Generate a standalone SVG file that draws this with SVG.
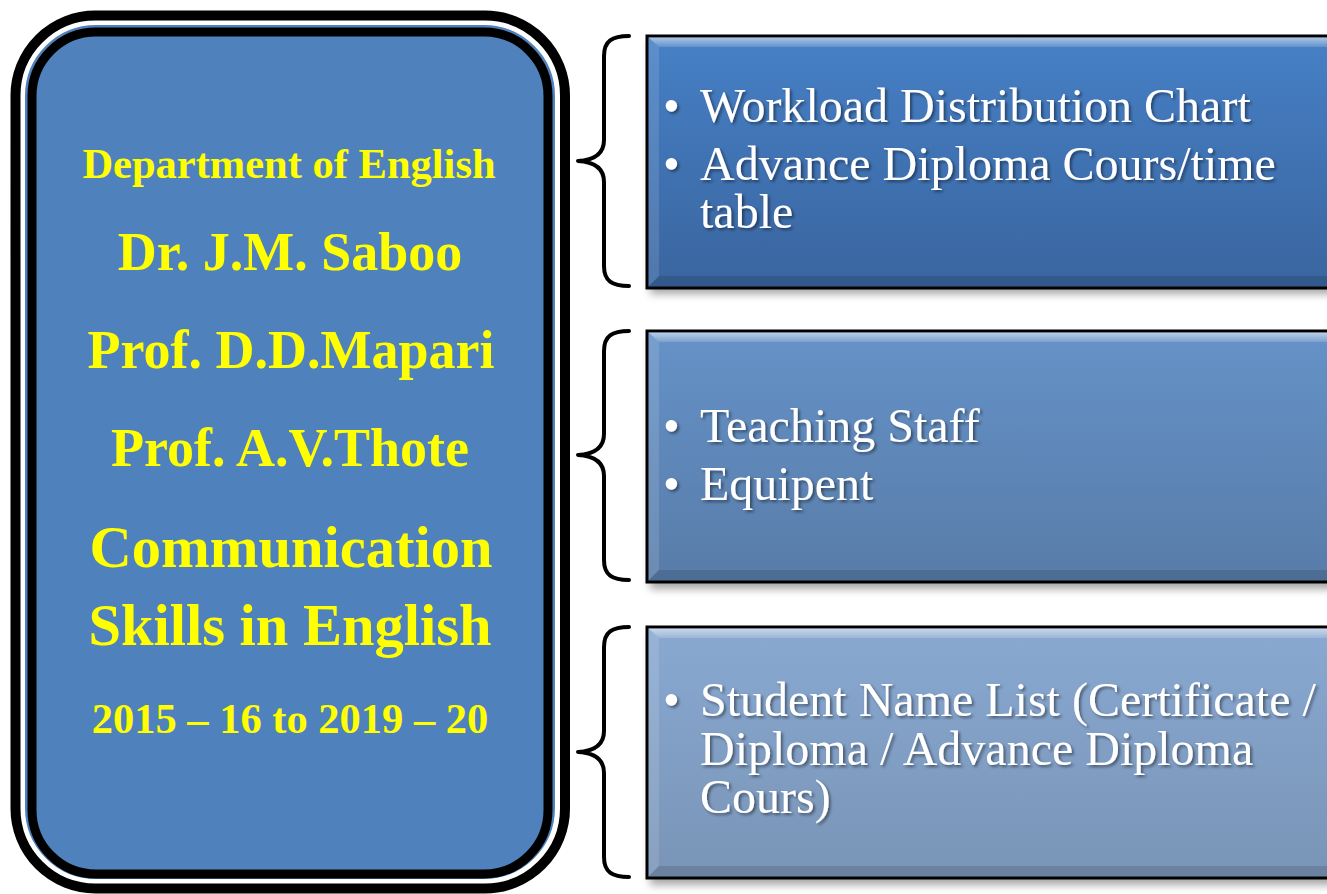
<svg xmlns="http://www.w3.org/2000/svg" width="1327" height="894" viewBox="0 0 1327 894">
<defs>
<linearGradient id="g1" x1="0" y1="0" x2="0" y2="1"><stop offset="0" stop-color="#4680c6"/><stop offset="1" stop-color="#3a659f"/></linearGradient>
<linearGradient id="g2" x1="0" y1="0" x2="0" y2="1"><stop offset="0" stop-color="#6592c8"/><stop offset="1" stop-color="#587ca8"/></linearGradient>
<linearGradient id="g3" x1="0" y1="0" x2="0" y2="1"><stop offset="0" stop-color="#89a9d2"/><stop offset="1" stop-color="#7994b6"/></linearGradient>
<linearGradient id="hg" x1="0" y1="0" x2="0" y2="1"><stop offset="0" stop-color="#fff" stop-opacity="0.55"/><stop offset="1" stop-color="#fff" stop-opacity="0.15"/></linearGradient>
<filter id="ts" x="-5%" y="-20%" width="110%" height="140%"><feDropShadow dx="2" dy="2" stdDeviation="1.5" flood-color="#000" flood-opacity="0.45"/></filter>
<filter id="bs" x="-5%" y="-10%" width="110%" height="130%"><feGaussianBlur stdDeviation="4"/></filter>
<style>
.ttl{font-family:"Liberation Serif","Times New Roman",serif;font-weight:bold;fill:#ffff00;text-anchor:middle}
.itm{font-family:"Liberation Serif","Times New Roman",serif;font-size:48px;fill:#ffffff}
.brace{fill:none;stroke:#000;stroke-width:4;stroke-linecap:round;stroke-linejoin:round}
.frame{stroke:#000;stroke-width:3}
.hi{fill:url(#hg)}
.dk{fill:#000000;opacity:0.12}
</style>
</defs>

<g id="main">
<rect x="15.5" y="15.5" width="549.5" height="873" rx="80" fill="none" stroke="#000" stroke-width="10"/>
<rect x="24" y="24" width="532" height="856" rx="72" fill="#4f81bd" stroke="#fff" stroke-width="2"/>
<rect x="32" y="32" width="516" height="842" rx="64" fill="#4f81bd" stroke="#000" stroke-width="9"/>
<text class="ttl" x="289" y="178" font-size="42.5">Department of English</text>
<text class="ttl" x="290" y="270" font-size="54">Dr. J.M. Saboo</text>
<text class="ttl" x="291" y="368" font-size="54">Prof. D.D.Mapari</text>
<text class="ttl" x="290" y="466" font-size="54">Prof. A.V.Thote</text>
<text class="ttl" x="291" y="567" font-size="58.5">Communication</text>
<text class="ttl" x="290" y="645" font-size="58.5">Skills in English</text>
<text class="ttl" x="290" y="733" font-size="42.5">2015 – 16 to 2019 – 20</text>
</g>

<g id="connectors">
<path class="brace" d="M629 36 C612 36 604 41 604 56 L604 140 C604 153 596 160 578 161 C596 162 604 169 604 182 L604 266 C604 281 612 286 629 286"/>
<path class="brace" d="M629 331 C612 331 604 336 604 351 L604 434 C604 447 596 454 578 455 C596 456 604 463 604 476 L604 560 C604 575 612 580 629 580"/>
<path class="brace" d="M629 627 C612 627 604 632 604 647 L604 731 C604 744 596 751 578 752 C596 753 604 760 604 773 L604 857 C604 872 612 877 629 877"/>
</g>

<g id="box1">
<rect x="650" y="42" width="690" height="252" fill="#000" opacity="0.35" filter="url(#bs)"/>
<rect class="frame" x="647" y="36" width="690" height="252" fill="url(#g1)"/>
<polygon class="hi" points="648.5,37.5 1340,37.5 1340,47 659,47"/>
<polygon points="648.5,37.5 659,47 659,276 648.5,286.5" fill="#fff" opacity="0.12"/>
<polygon class="dk" points="648.5,286.5 659,276 1340,276 1340,286.5"/>
<g filter="url(#ts)">
<text class="itm" x="663" y="122">•</text><text class="itm" x="700" y="122">Workload Distribution Chart</text>
<text class="itm" x="663" y="180">•</text><text class="itm" x="700" y="180">Advance Diploma Cours/time</text>
<text class="itm" x="700" y="228">table</text>
</g>
</g>

<g id="box2">
<rect x="650" y="337" width="690" height="252" fill="#000" opacity="0.35" filter="url(#bs)"/>
<rect class="frame" x="647" y="331" width="690" height="251" fill="url(#g2)"/>
<polygon class="hi" points="648.5,332.5 1340,332.5 1340,342 659,342"/>
<polygon points="648.5,332.5 659,342 659,570 648.5,580.5" fill="#fff" opacity="0.12"/>
<polygon class="dk" points="648.5,580.5 659,570 1340,570 1340,580.5"/>
<g filter="url(#ts)">
<text class="itm" x="663" y="442">•</text><text class="itm" x="700" y="442">Teaching Staff</text>
<text class="itm" x="663" y="500">•</text><text class="itm" x="700" y="500">Equipent</text>
</g>
</g>

<g id="box3">
<rect x="650" y="633" width="690" height="252" fill="#000" opacity="0.35" filter="url(#bs)"/>
<rect class="frame" x="647" y="627" width="690" height="251" fill="url(#g3)"/>
<polygon class="hi" points="648.5,628.5 1340,628.5 1340,638 659,638"/>
<polygon points="648.5,628.5 659,638 659,866 648.5,876.5" fill="#fff" opacity="0.12"/>
<polygon class="dk" points="648.5,876.5 659,866 1340,866 1340,876.5"/>
<g filter="url(#ts)">
<text class="itm" x="663" y="716">•</text><text class="itm" x="700" y="716">Student Name List (Certificate /</text>
<text class="itm" x="700" y="765">Diploma / Advance Diploma</text>
<text class="itm" x="700" y="813">Cours)</text>
</g>
</g>
</svg>
